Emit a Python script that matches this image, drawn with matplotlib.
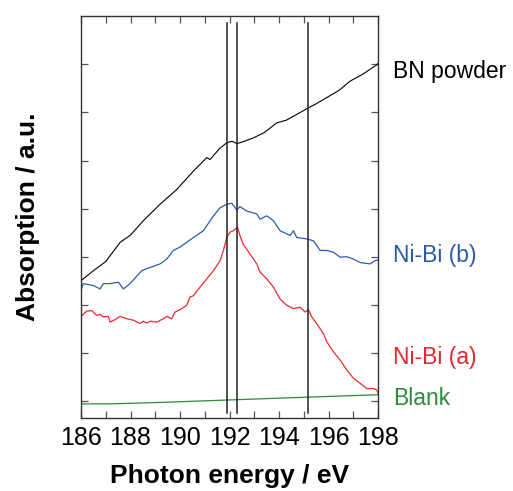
import matplotlib
matplotlib.use("Agg")
import matplotlib.pyplot as plt
from matplotlib.ticker import MultipleLocator, NullFormatter

plt.rcParams['font.family'] = ['Liberation Sans', 'DejaVu Sans']

# photon energy (eV) / absorption (a.u.)
bn_x = [186.0, 186.09, 186.5, 187.0, 187.58, 188.0, 188.52, 189.19, 189.87, 190.54, 191.08,
        191.21, 191.6, 191.89, 192.1, 192.3, 192.6, 192.96, 193.4, 193.9, 194.3, 194.58,
        195.17, 195.5, 195.93, 196.4, 196.87, 197.4, 197.95, 198.0]
bn_y = [2.50, 2.54, 2.71, 2.90, 3.30, 3.45, 3.75, 4.09, 4.40, 4.78, 5.06,
        5.02, 5.25, 5.37, 5.40, 5.35, 5.40, 5.47, 5.58, 5.78, 5.84, 5.92,
        6.09, 6.18, 6.31, 6.45, 6.65, 6.80, 6.99, 7.02]

nib_x = [186.0, 186.09, 186.5, 186.77, 186.9, 187.17, 187.51, 187.71, 187.98, 188.45, 188.65,
         189.19, 189.46, 189.73, 190.0, 190.27, 190.54, 190.94, 191.35, 191.62, 191.89,
         192.09, 192.29, 192.42, 192.69, 193.1, 193.23, 193.5, 193.77, 194.04, 194.45,
         194.58, 194.71, 195.12, 195.39, 195.66, 195.93, 196.2, 196.47, 196.74, 197.01,
         197.27, 197.68, 197.88, 198.0]
nib_y = [2.30, 2.44, 2.40, 2.33, 2.44, 2.44, 2.47, 2.33, 2.44, 2.71, 2.75,
         2.85, 2.95, 3.13, 3.20, 3.30, 3.40, 3.54, 3.85, 4.02, 4.09,
         4.11, 3.97, 4.04, 3.95, 3.89, 3.78, 3.85, 3.75, 3.54, 3.44,
         3.54, 3.40, 3.37, 3.33, 3.13, 3.13, 3.09, 2.99, 3.00, 2.95,
         2.88, 2.85, 2.92, 2.93]

nia_x = [186.0, 186.23, 186.43, 186.63, 186.77, 186.9, 187.1, 187.17, 187.37, 187.58, 187.85,
         188.11, 188.38, 188.52, 188.65, 188.79, 189.06, 189.33, 189.46, 189.66, 189.8,
         190.0, 190.27, 190.4, 190.54, 190.81, 191.08, 191.35, 191.62, 191.75, 191.89,
         192.02, 192.15, 192.32, 192.42, 192.55, 192.82, 193.1, 193.23, 193.5, 193.77,
         194.04, 194.31, 194.58, 194.85, 195.05, 195.19, 195.32, 195.52, 195.79, 195.93,
         196.2, 196.47, 196.74, 197.01, 197.27, 197.54, 197.81, 197.95, 198.0]
nia_y = [1.76, 1.87, 1.88, 1.78, 1.80, 1.75, 1.76, 1.64, 1.69, 1.76, 1.71,
         1.68, 1.61, 1.66, 1.62, 1.66, 1.64, 1.71, 1.76, 1.71, 1.85,
         1.90, 1.99, 2.16, 2.19, 2.37, 2.54, 2.71, 2.92, 3.13, 3.40,
         3.51, 3.54, 3.61, 3.44, 3.26, 3.06, 2.85, 2.68, 2.54, 2.37,
         2.12, 1.99, 1.92, 1.95, 1.85, 1.90, 1.75, 1.61, 1.40, 1.23,
         1.02, 0.85, 0.64, 0.47, 0.37, 0.26, 0.26, 0.23, 0.16]

blank_x = [186.0, 187.17, 189.19, 191.89, 194.58, 198.0]
blank_y = [-0.06, -0.06, -0.03, 0.02, 0.07, 0.13]

vlines = [191.89, 192.30, 195.17]

fig = plt.figure(figsize=(5.13, 4.91), dpi=100)
ax = fig.add_axes([0.158, 0.149, 0.579, 0.818])

ax.plot(bn_x, bn_y, color='black', lw=0.8)
ax.plot(nib_x, nib_y, color='#2b5cb0', lw=0.9)
ax.plot(nia_x, nia_y, color='#ee2b2f', lw=0.9)
ax.plot(blank_x, blank_y, color='#2e8a3c', lw=0.9)

for v in vlines:
    ax.plot([v, v], [-0.24, 7.85], color='#222222', lw=1.1)

ax.set_xlim(186, 198)
ax.set_ylim(-0.35, 8.0)
ax.xaxis.set_major_locator(MultipleLocator(2))
ax.xaxis.set_minor_locator(MultipleLocator(1))
ax.set_yticks(range(0, 8))
ax.yaxis.set_major_formatter(NullFormatter())
ax.tick_params(axis='both', which='both', direction='in', top=True, right=True,
               length=5, width=0.9, color='#555555')
ax.tick_params(axis='x', labelsize=18, pad=6)
for s in ax.spines.values():
    s.set_color('#333333')
    s.set_linewidth(1.0)

ax.set_xlabel('Photon energy / eV', fontsize=19, fontweight='bold', labelpad=10)
ax.set_ylabel('Absorption / a.u.', fontsize=19, fontweight='bold', labelpad=26)

lbl = dict(fontsize=16.5, va='center', ha='left', clip_on=False)
ax.text(198.6, 6.85, 'BN powder', color='black', **lbl)
ax.text(198.6, 3.02, 'Ni-Bi (b)', color='#2a5aa8', **lbl)
ax.text(198.6, 0.91, 'Ni-Bi (a)', color='#e8262d', **lbl)
ax.text(198.6, 0.06, 'Blank', color='#2f8a3c', **lbl)

fig.savefig('out.png', dpi=100)
